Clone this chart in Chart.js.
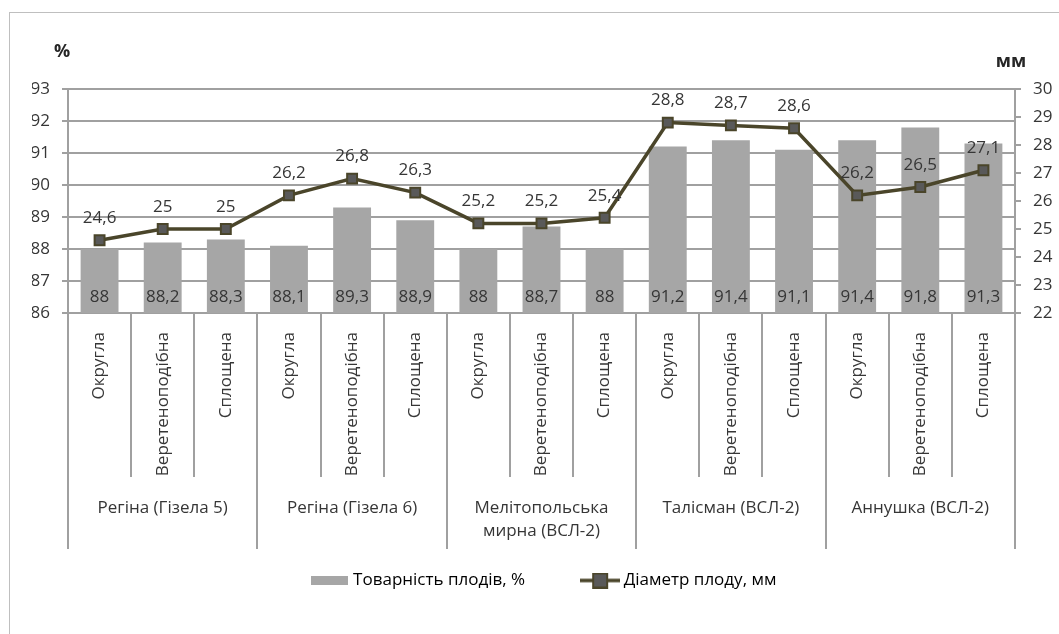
<!DOCTYPE html>
<html>
<head>
<meta charset="utf-8">
<script src="https://cdn.jsdelivr.net/npm/chart.js@4.4.1/dist/chart.umd.min.js"></script>
<style>
  html, body { margin: 0; padding: 0; background: #fff; overflow: hidden; }
  #frame { position: absolute; left: 9px; top: 12px; width: 1200px; height: 800px; border: 1px solid #bfbfbf; }
  #c { position: absolute; left: 0; top: 0; }
</style>
</head>
<body>
<div id="frame"></div>
<canvas id="c" width="1059" height="634"></canvas>
<script>
// ---------------- data ----------------
var shapeLabels = ['Округла', 'Веретеноподібна', 'Сплощена',
  'Округла', 'Веретеноподібна', 'Сплощена',
  'Округла', 'Веретеноподібна', 'Сплощена',
  'Округла', 'Веретеноподібна', 'Сплощена',
  'Округла', 'Веретеноподібна', 'Сплощена'];
var groupLabels = [['Регіна (Гізела 5)'], ['Регіна (Гізела 6)'], ['Мелітопольська', 'мирна (ВСЛ-2)'],
  ['Талісман (ВСЛ-2)'], ['Аннушка (ВСЛ-2)']];
var marketability = [88, 88.2, 88.3, 88.1, 89.3, 88.9, 88, 88.7, 88, 91.2, 91.4, 91.1, 91.4, 91.8, 91.3];
var diameter = [24.6, 25, 25, 26.2, 26.8, 26.3, 25.2, 25.2, 25.4, 28.8, 28.7, 28.6, 26.2, 26.5, 27.1];
var leftTicks = [86, 93];
var rightTicks = [22, 30];
var seriesNames = ['Товарність плодів, %', 'Діаметр плоду, мм'];

var BAR = '#a6a6a6', LINE = '#4a452a', MARK = '#595959', GRID = '#a0a0a0', TXT = '#363636';

Chart.defaults.font.family = '"Open Sans", sans-serif';
Chart.defaults.font.size = 17;
Chart.defaults.color = TXT;

function fmt(v) { return String(v).replace('.', ','); }

// legend swatches
function swatchBar() {
  var c = document.createElement('canvas'); c.width = 37; c.height = 9;
  var g = c.getContext('2d'); g.fillStyle = BAR; g.fillRect(0, 0, 37, 9);
  return c;
}
function swatchLine() {
  var c = document.createElement('canvas'); c.width = 40; c.height = 16;
  var g = c.getContext('2d');
  g.strokeStyle = LINE; g.lineWidth = 3.5;
  g.beginPath(); g.moveTo(0, 8); g.lineTo(40, 8); g.stroke();
  g.fillStyle = MARK; g.fillRect(13, 1, 14, 14);
  g.lineWidth = 2; g.strokeRect(13, 1, 14, 14);
  return c;
}

// value labels
var valueLabels = {
  id: 'valueLabels',
  afterDatasetsDraw: function(chart) {
    var ctx = chart.ctx;
    ctx.save();
    ctx.font = '17px "Open Sans", sans-serif';
    ctx.fillStyle = TXT;
    ctx.textAlign = 'center';
    ctx.textBaseline = 'middle';
    var bars = chart.getDatasetMeta(0).data;
    var base = chart.scales.y.getPixelForValue(chart.scales.y.min);
    bars.forEach(function(b, i) { ctx.fillText(fmt(marketability[i]), b.x, base - 16); });
    var pts = chart.getDatasetMeta(1).data;
    pts.forEach(function(p, i) { ctx.fillText(fmt(diameter[i]), p.x, p.y - 22); });
    ctx.restore();
  }
};

// multi-level category axis + unit titles
var groupAxis = {
  id: 'groupAxis',
  afterDraw: function(chart) {
    var ctx = chart.ctx, x = chart.scales.x, area = chart.chartArea;
    var step = x.getPixelForValue(1) - x.getPixelForValue(0);
    ctx.save();
    ctx.strokeStyle = GRID; ctx.lineWidth = 2;
    for (var i = 0; i <= shapeLabels.length; i++) {
      var px = Math.round(x.getPixelForValue(i) - step / 2);
      var end = (i % 3 === 0) ? area.bottom + 236 : area.bottom + 164;
      ctx.beginPath(); ctx.moveTo(px, area.bottom); ctx.lineTo(px, end); ctx.stroke();
    }
    ctx.font = '17px "Open Sans", sans-serif';
    ctx.fillStyle = TXT; ctx.textAlign = 'center'; ctx.textBaseline = 'middle';
    groupLabels.forEach(function(lines, g) {
      var cx = x.getPixelForValue(g * 3 + 1);
      lines.forEach(function(t, k) { ctx.fillText(t, cx, area.bottom + 195 + k * 23); });
    });
    ctx.fillStyle = '#262626';
    ctx.font = 'bold 18px "Open Sans", sans-serif';
    ctx.fillText('%', area.left - 6, area.top - 37);
    ctx.fillText('мм', area.right - 4, area.top - 27);
    ctx.restore();
  }
};

var chart = new Chart(document.getElementById('c'), {
  data: {
    labels: shapeLabels,
    datasets: [{
      type: 'bar',
      label: seriesNames[0],
      data: marketability,
      backgroundColor: BAR,
      categoryPercentage: 1,
      barPercentage: 0.6,
      yAxisID: 'y',
      order: 1
    }, {
      type: 'line',
      label: seriesNames[1],
      data: diameter,
      borderColor: LINE,
      borderWidth: 3.5,
      pointStyle: 'rect',
      pointRadius: 7,
      pointHoverRadius: 7,
      pointBackgroundColor: MARK,
      pointBorderColor: LINE,
      pointBorderWidth: 2,
      tension: 0,
      yAxisID: 'y1',
      order: 0
    }]
  },
  options: {
    responsive: false,
    animation: false,
    devicePixelRatio: 1,
    layout: { padding: { top: 89, left: 32, right: 0, bottom: 35 } },
    plugins: {
      tooltip: { enabled: false },
      legend: {
        position: 'bottom',
        labels: {
          usePointStyle: true,
          pointStyleWidth: 30,
          padding: 60,
          color: '#262626',
          font: { size: 17 },
          generateLabels: function() {
            return [
              { text: seriesNames[0], pointStyle: swatchBar(), datasetIndex: 0, lineWidth: 0, strokeStyle: 'rgba(0,0,0,0)', fillStyle: BAR },
              { text: seriesNames[1], pointStyle: swatchLine(), datasetIndex: 1, lineWidth: 0, strokeStyle: 'rgba(0,0,0,0)', fillStyle: MARK }
            ];
          }
        }
      }
    },
    scales: {
      x: {
        grid: { display: false, drawTicks: false },
        border: { display: false },
        ticks: { minRotation: 90, maxRotation: 90, padding: 19, autoSkip: false },
        afterFit: function(s) { s.height = 199; }
      },
      y: {
        position: 'left',
        min: leftTicks[0], max: leftTicks[1],
        ticks: { stepSize: 1, padding: 12 },
        grid: { color: GRID, lineWidth: 2, tickLength: 6 },
        border: { color: GRID, width: 2 },
        afterFit: function(s) { s.width = 36; }
      },
      y1: {
        position: 'right',
        min: rightTicks[0], max: rightTicks[1],
        ticks: { stepSize: 1, padding: 12 },
        grid: { drawOnChartArea: false, color: GRID, lineWidth: 2, tickLength: 6 },
        border: { color: GRID, width: 2 },
        afterFit: function(s) { s.width = 44; }
      }
    }
  },
  plugins: [valueLabels, groupAxis]
});
</script>
</body>
</html>
